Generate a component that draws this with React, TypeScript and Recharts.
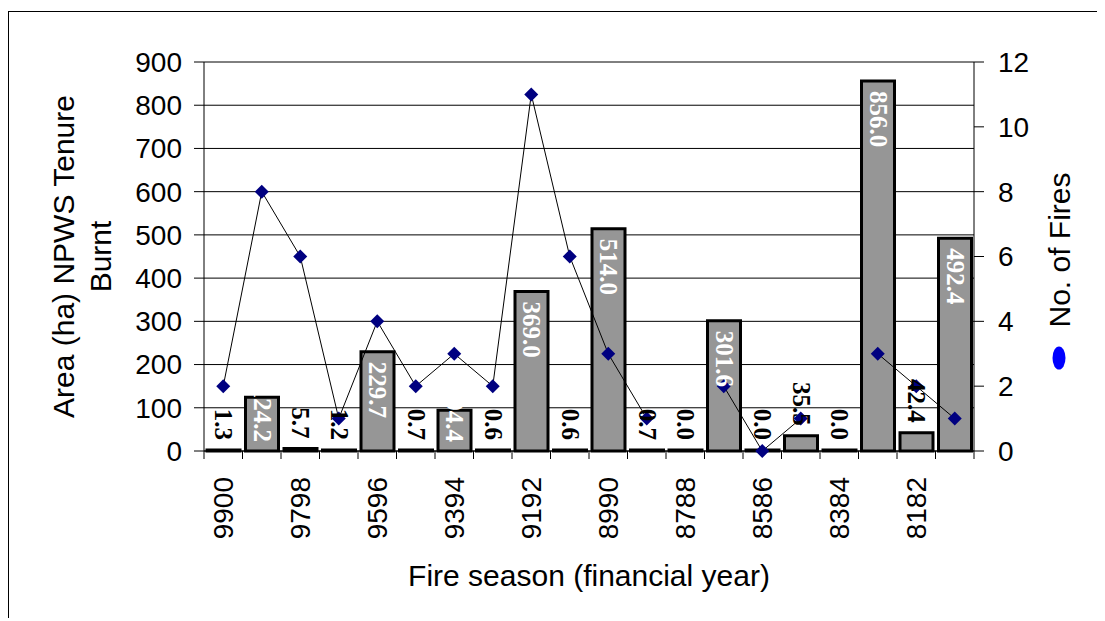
import React from 'react';
import {
  ComposedChart,
  Bar,
  Line,
  XAxis,
  YAxis,
  CartesianGrid,
  LabelList
} from 'recharts';

const categories = [
  '9900', '9899', '9798', '9697', '9596', '9495', '9394', '9293', '9192', '9091',
  '8990', '8889', '8788', '8687', '8586', '8485', '8384', '8283', '8182', '8081'
];
const areaBurnt = [
  1.3, 124.2, 5.7, 1.2, 229.7, 0.7, 94.4, 0.6, 369.0, 0.6,
  514.0, 0.7, 0.0, 301.6, 0.0, 35.5, 0.0, 856.0, 42.4, 492.4
];
const fireCount = [2, 8, 6, 1, 4, 2, 3, 2, 11, 6, 3, 1, null, 2, 0, 1, null, 3, 2, 1];
const areaTicks = [0, 100, 200, 300, 400, 500, 600, 700, 800, 900];
const fireTicks = [0, 2, 4, 6, 8, 10, 12];

const data = categories.map((season, i) => ({
  season,
  area: areaBurnt[i],
  fires: fireCount[i]
}));

// layout
const W = 1096;
const H = 609;
const M = { top: 50, right: 71, bottom: 30, left: 5 };
const LEFT_W = 190;
const RIGHT_W = 60;
const X_H = 140;
const PLOT_L = M.left + LEFT_W;
const PLOT_R = W - M.right - RIGHT_W;
const PLOT_B = H - M.bottom - X_H;
const BAND = (PLOT_R - PLOT_L) / categories.length;

const SANS = '"Liberation Sans", Arial, sans-serif';
const SERIF = '"Liberation Serif", "Times New Roman", serif';
const LABEL_FONT = 25;

const XTick = (props: any) => {
  const { x, y, index } = props;
  const half = BAND / 2;
  const ty = y + 26;
  return (
    <g>
      <line x1={x - half} x2={x - half} y1={y} y2={y + 8} stroke="#000" />
      {index === categories.length - 1 && (
        <line x1={x + half} x2={x + half} y1={y} y2={y + 8} stroke="#000" />
      )}
      {index % 2 === 0 && (
        <text
          x={x}
          y={ty}
          transform={`rotate(-90 ${x} ${ty})`}
          textAnchor="end"
          dominantBaseline="central"
          fontSize={28}
          fontFamily={SANS}
          fill="#000"
        >
          {props.payload.value}
        </text>
      )}
    </g>
  );
};

const BarValueLabel = (props: any) => {
  const { x, y, width, height, value } = props;
  const v = Number(value);
  const txt = v.toFixed(1);
  const len = (txt.length - 1) * 0.5 * LABEL_FONT + 0.25 * LABEL_FONT;
  const cx = x + width / 2;
  const base = y + height;
  let start;
  let fill;
  if (v >= 60) {
    start = Math.min(y + 10, base - 9 - len);
    fill = '#fff';
  } else {
    start = y - 10 - len;
    fill = '#000';
  }
  return (
    <text
      x={cx}
      y={start}
      transform={`rotate(90 ${cx} ${start})`}
      textAnchor="start"
      dominantBaseline="central"
      fontSize={LABEL_FONT}
      fontWeight="bold"
      fontFamily={SERIF}
      fill={fill}
    >
      {txt}
    </text>
  );
};

const Diamond = (props: any) => {
  const { cx, cy, index } = props;
  if (cx == null || cy == null || props.value == null) return <g key={index} />;
  const r = 7;
  return (
    <polygon
      key={index}
      points={`${cx},${cy - r} ${cx + r},${cy} ${cx},${cy + r} ${cx - r},${cy}`}
      fill="#000080"
    />
  );
};

const LeftTitle = () => {
  const cx = 72;
  const cy = (M.top + PLOT_B) / 2;
  return (
    <text
      x={cx}
      y={cy}
      transform={`rotate(-90 ${cx} ${cy})`}
      textAnchor="middle"
      dominantBaseline="central"
      fontSize={30}
      fontFamily={SANS}
      fill="#000"
    >
      <tspan x={cx} dy={-18}>Area (ha) NPWS Tenure</tspan>
      <tspan x={cx} dy={37}>Burnt</tspan>
    </text>
  );
};

const BottomTitle = () => (
  <text
    x={(PLOT_L + PLOT_R) / 2}
    y={PLOT_B + 135}
    textAnchor="middle"
    fontSize={30}
    fontFamily={SANS}
    fill="#000"
  >
    Fire season (financial year)
  </text>
);

export default function App() {
  return (
    <div
      style={{
        position: 'relative',
        top: 3,
        width: W,
        height: H,
        borderLeft: '1px solid #000',
        borderTop: '1px solid #000',
        background: '#fff'
      }}
    >
      <style>{'body{overflow:hidden}'}</style>
      <ComposedChart width={W} height={H} data={data} margin={M}>
        <CartesianGrid yAxisId="left" vertical={false} stroke="#000" />
        <XAxis
          dataKey="season"
          height={X_H}
          interval={0}
          tickSize={0}
          tickMargin={0}
          tickLine={false}
          axisLine={{ stroke: '#000' }}
          tick={<XTick />}
          label={{ content: () => <BottomTitle /> }}
        />
        <YAxis
          yAxisId="left"
          domain={[0, 900]}
          ticks={areaTicks}
          width={LEFT_W}
          tickSize={10}
          tickMargin={12}
          axisLine={{ stroke: '#000' }}
          tickLine={{ stroke: '#000' }}
          tick={{ fill: '#000', fontSize: 28, fontFamily: SANS }}
          label={{ content: () => <LeftTitle /> }}
        />
        <YAxis
          yAxisId="right"
          orientation="right"
          domain={[0, 12]}
          ticks={fireTicks}
          width={RIGHT_W}
          tickSize={10}
          tickMargin={14}
          axisLine={{ stroke: '#000' }}
          tickLine={{ stroke: '#000' }}
          tick={{ fill: '#000', fontSize: 28, fontFamily: SANS }}
        />
        <Bar
          yAxisId="left"
          dataKey="area"
          fill="#969696"
          stroke="#000"
          strokeWidth={3}
          barSize={33}
          minPointSize={1}
          isAnimationActive={false}
        >
          <LabelList dataKey="area" content={BarValueLabel} />
        </Bar>
        <Line
          yAxisId="right"
          dataKey="fires"
          stroke="#000"
          strokeWidth={1}
          dot={Diamond}
          activeDot={false}
          connectNulls={false}
          isAnimationActive={false}
        />
      </ComposedChart>
      <svg
        width={60}
        height={250}
        style={{ position: 'absolute', left: 1020, top: 130 }}
      >
        <text
          x={30}
          y={108}
          transform="rotate(-90 30 108)"
          textAnchor="middle"
          dominantBaseline="central"
          fontSize={30}
          fontFamily={SANS}
          fill="#000"
        >
          No. of Fires
        </text>
        <ellipse cx={30} cy={216} rx={6.5} ry={11.5} fill="#0000ff" />
      </svg>
    </div>
  );
}
